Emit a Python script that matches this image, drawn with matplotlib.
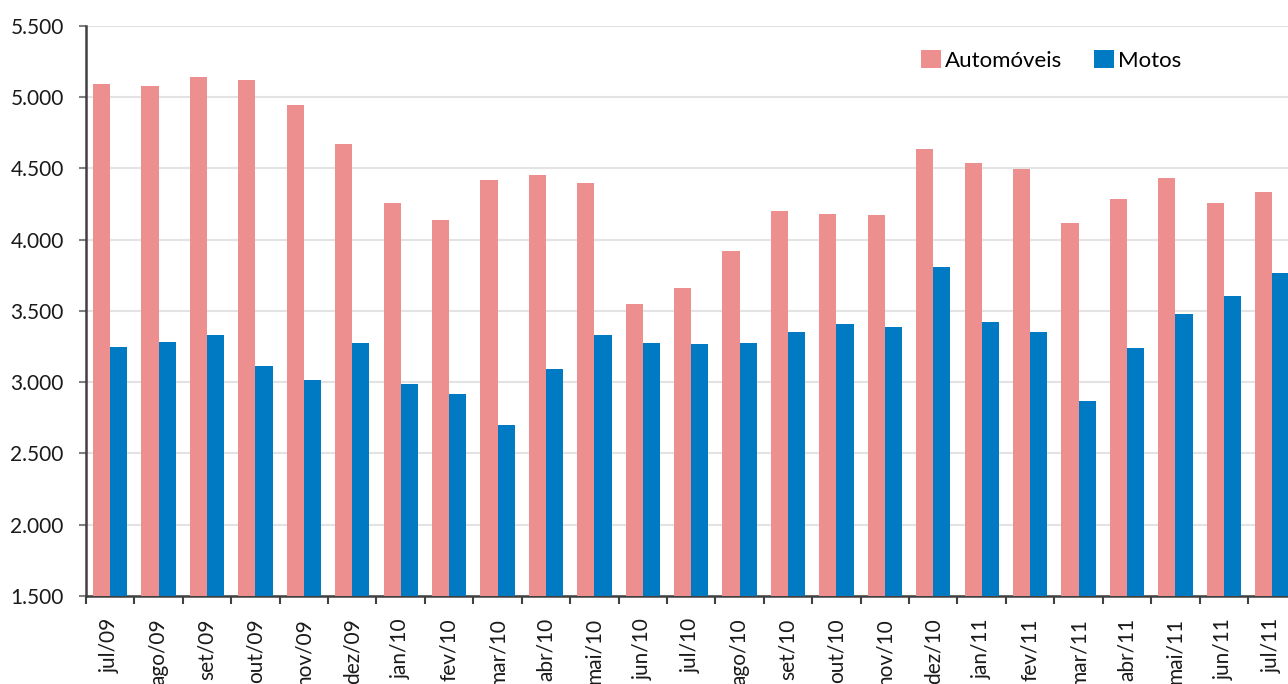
import numpy as np
import matplotlib
matplotlib.use('Agg')
import matplotlib.pyplot as plt
from matplotlib.ticker import FuncFormatter, FixedLocator

plt.rcParams['font.family'] = ['Lato', 'DejaVu Sans']

# Dados
meses = ['jul/09', 'ago/09', 'set/09', 'out/09', 'nov/09', 'dez/09',
         'jan/10', 'fev/10', 'mar/10', 'abr/10', 'mai/10', 'jun/10',
         'jul/10', 'ago/10', 'set/10', 'out/10', 'nov/10', 'dez/10',
         'jan/11', 'fev/11', 'mar/11', 'abr/11', 'mai/11', 'jun/11', 'jul/11']
automoveis = [5093, 5079, 5142, 5121, 4946, 4672, 4258, 4139, 4419, 4454,
              4398, 3549, 3661, 3921, 4202, 4181, 4174, 4637, 4539, 4497,
              4118, 4286, 4433, 4258, 4335]
motos = [3247, 3282, 3332, 3114, 3016, 3275, 2988, 2918, 2700, 3093,
         3332, 3275, 3268, 3275, 3353, 3409, 3388, 3809, 3423, 3353,
         2868, 3240, 3479, 3605, 3767]

cor_auto = '#ED8F8F'
cor_moto = '#007BC3'

fig = plt.figure(figsize=(12.88, 6.84), dpi=100)
ax = fig.add_axes([86 / 1288, 1 - 596 / 684, 1210.4 / 1288, 570 / 684])

x = np.arange(len(meses))
w = 0.355
ax.bar(x - w / 2, automoveis, width=w, color=cor_auto, label='Automóveis', zorder=3)
ax.bar(x + w / 2, motos, width=w, color=cor_moto, label='Motos', zorder=3)

ax.set_xlim(-0.5, len(meses) - 0.5)
ax.set_ylim(1500, 5500)
ax.set_yticks(np.arange(1500, 5501, 500))
ax.yaxis.set_major_formatter(FuncFormatter(lambda v, p: f'{int(v):,}'.replace(',', '.')))
ax.grid(axis='y', color='#E3E3E3', linewidth=1.5, zorder=0)

# rótulos no centro, marcas nas divisões
ax.set_xticks(x)
ax.set_xticklabels(meses, rotation=90, va='top', ha='center')
ax.xaxis.set_minor_locator(FixedLocator(np.arange(-0.5, len(meses) + 0.5, 1)))
ax.tick_params(axis='x', which='major', length=0, pad=16, labelsize=15, colors='#1a1a1a')
ax.tick_params(axis='x', which='minor', length=6, width=1.5, color='#404040')
ax.tick_params(axis='y', length=5, width=1.5, color='#808080', pad=11, labelsize=15,
               labelcolor='#1a1a1a')

for s in ['top', 'right']:
    ax.spines[s].set_visible(False)
for s in ['left', 'bottom']:
    ax.spines[s].set_color('#404040')
    ax.spines[s].set_linewidth(1.8)

ax.legend(loc='center left', bbox_to_anchor=(921 / 1288, 1 - 60.5 / 684),
          bbox_transform=fig.transFigure, ncol=2, frameon=False, fontsize=16,
          handlelength=0.88, handleheight=0.88, handletextpad=0.2,
          columnspacing=1.45, borderpad=0, borderaxespad=0)

fig.savefig('out.png', dpi=100)
